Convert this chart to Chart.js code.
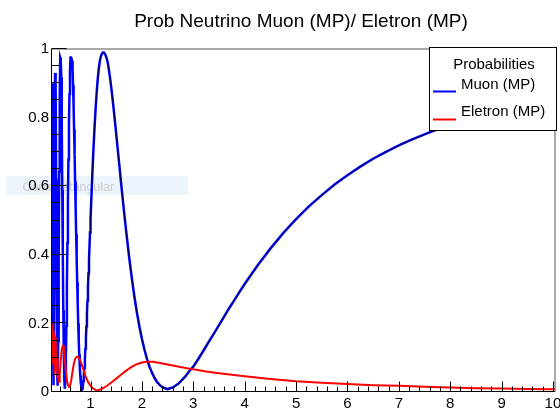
<!DOCTYPE html>
<html><head><meta charset="utf-8">
<script src="https://cdn.jsdelivr.net/npm/chart.js@4.4.1/dist/chart.umd.min.js"></script>
<style>html,body{margin:0;padding:0;background:#fff;}#wrap{width:560px;height:408px;position:relative;}</style>
</head><body><div id="wrap"><canvas id="c" width="560" height="408"></canvas></div>
<script>
const chartTitle = 'Prob Neutrino Muon (MP)/ Eletron (MP)';
const legendTitle = 'Probabilities';
const seriesNames = ['Muon (MP)', 'Eletron (MP)'];
const ghostLabel = 'Caixa retangular';

const muonX = [
 0.25,0.26,0.27,0.28,0.29,0.30,0.31,0.32,0.33,0.34,0.35,0.36,0.37,0.38,0.39,0.40,0.41,0.42,0.43,0.44,
 0.45,0.46,0.47,0.48,0.49,0.50,0.51,0.52,0.53,0.54,0.55,0.56,0.57,0.58,0.59,0.60,0.61,0.62,0.63,0.64,
 0.65,0.66,0.67,0.68,0.69,0.70,0.71,0.72,0.73,0.74,0.75,0.76,0.77,0.78,0.79,0.80,0.81,0.82,0.83,0.84,
 0.85,0.86,0.87,0.88,0.89,0.90,0.91,0.92,0.93,0.94,0.95,0.96,0.97,0.98,0.99,1.00,
 1.02,1.04,1.06,1.08,1.10,1.12,1.14,1.16,1.18,1.20,1.22,1.24,1.26,1.28,1.30,1.32,1.34,1.36,1.38,1.40,
 1.42,1.44,1.46,1.48,1.50,1.52,1.54,1.56,1.58,1.60,
 1.65,1.70,1.75,1.80,1.85,1.90,1.95,2.00,2.05,2.10,2.15,2.20,2.25,2.30,2.35,2.40,2.45,2.50,2.55,2.60,
 2.65,2.70,2.75,2.80,2.85,2.90,2.95,3.00,
 3.1,3.2,3.3,3.4,3.5,3.6,3.7,3.8,3.9,4.0,
 4.25,4.5,4.75,5.0,5.25,5.5,5.75,6.0,6.25,6.5,6.75,7.0,7.25,7.5,7.75,8.0,8.5,9.0,9.5,10.0,10.04
];
const muonP = [
 0.90,0.68,0.165,0.02,0.32,0.75,0.93,0.917,0.62,0.285,0.06,0.018,0.148,0.383,0.643,0.855,0.975,0.97,0.918,0.773,
 0.59,0.404,0.238,0.113,0.035,0.01,0.033,0.097,0.193,0.309,0.435,0.56,0.678,0.783,0.869,0.934,0.975,0.975,0.97,0.965,
 0.944,0.894,0.834,0.765,0.692,0.615,0.538,0.461,0.388,0.32,0.258,0.2,0.151,0.11,0.074,0.048,0.028,0.016,0.01,0.011,
 0.019,0.032,0.049,0.07,0.096,0.126,0.158,0.192,0.229,0.266,0.306,0.346,0.386,0.426,0.466,0.505,
 0.58,0.652,0.718,0.777,0.829,0.874,0.912,0.942,0.964,0.978,0.986,0.99,0.99,0.986,0.979,0.97,0.956,0.937,0.916,0.892,
 0.866,0.839,0.811,0.782,0.752,0.722,0.692,0.662,0.632,0.601,
 0.529,0.46,0.395,0.336,0.282,0.234,0.192,0.155,0.123,0.096,0.073,0.055,0.04,0.028,0.02,0.014,0.011,0.008,0.011,0.013,
 0.018,0.023,0.03,0.038,0.046,0.056,0.066,0.074,
 0.097,0.121,0.146,0.17,0.195,0.22,0.245,0.268,0.292,0.315,
 0.369,0.418,0.463,0.504,0.541,0.574,0.605,0.632,0.657,0.68,0.7,0.719,0.736,0.751,0.766,0.779,0.802,0.822,0.839,0.854,0.855
];

const eletronX = [
 0.25,0.26,0.27,0.28,0.29,0.30,0.31,0.32,0.33,0.34,0.35,0.36,0.37,0.38,0.39,0.40,0.42,0.44,0.46,0.47,
 0.48,0.50,0.52,0.54,0.56,0.58,0.60,0.62,0.64,0.66,0.68,0.70,0.72,0.74,0.76,0.78,0.80,0.85,0.90,0.95,
 1.00,1.05,1.10,1.15,1.20,1.30,1.40,1.50,1.60,1.70,1.80,1.90,2.00,2.10,2.20,2.30,2.40,2.50,2.75,3.00,
 3.25,3.50,3.75,4.00,4.50,5.00,5.50,6.00,6.50,7.00,7.50,8.00,8.50,9.00,9.50,10.00,10.04
];
const eletronP = [
 0.20,0.08,0.18,0.10,0.17,0.05,0.16,0.15,0.09,0.06,0.10,0.04,0.05,0.03,0.03,0.05,0.09,0.125,0.135,0.135,
 0.125,0.09,0.06,0.035,0.02,0.015,0.018,0.03,0.05,0.07,0.085,0.096,0.101,0.103,0.102,0.098,0.092,0.07,0.047,0.03,
 0.018,0.01,0.006,0.005,0.008,0.016,0.027,0.039,0.051,0.063,0.073,0.081,0.086,0.088,0.088,0.086,0.083,0.08,0.073,0.066,
 0.06,0.055,0.05,0.046,0.038,0.031,0.027,0.023,0.02,0.018,0.015,0.013,0.011,0.01,0.009,0.008,0.008
];

const xTickValues = [1,2,3,4,5,6,7,8,9,10];
const yTickValues = [0,0.2,0.4,0.6,0.8,1];
const xRange = [0.25, 10.04];
const yRange = [0, 1];
const overlayFrom = 0.9;

const FONT = '"Liberation Sans", Arial, Helvetica, sans-serif';
const toPts = (xs, ys) => xs.map((x, i) => ({x: x, y: ys[i]}));
const muonPts = toPts(muonX, muonP);

const rootPlugin = {
  id: 'rootStyle',
  beforeDraw(chart) {
    const ctx = chart.ctx;
    ctx.save();
    ctx.fillStyle = '#ffffff';
    ctx.fillRect(0, 0, chart.width, chart.height);
    ctx.fillStyle = '#edf4fc';
    ctx.fillRect(6, 176, 182, 19);
    ctx.fillStyle = '#cccccc';
    ctx.font = '12.5px ' + FONT;
    ctx.textBaseline = 'alphabetic';
    ctx.textAlign = 'left';
    ctx.fillText(ghostLabel, 22.5, 190.5);
    ctx.restore();
  },
  afterDatasetsDraw(chart) {
    const ctx = chart.ctx;
    const a = chart.chartArea;
    const xs = chart.scales.x, ys = chart.scales.y;
    ctx.save();
    ctx.lineWidth = 1;
    ctx.strokeStyle = '#000';
    ctx.beginPath();
    ctx.moveTo(a.left - 0.5, a.top); ctx.lineTo(a.left - 0.5, a.bottom - 0.5);
    ctx.lineTo(a.right, a.bottom - 0.5);
    ctx.stroke();
    ctx.strokeStyle = '#555';
    ctx.beginPath();
    ctx.moveTo(a.left - 0.5, a.top); ctx.lineTo(a.right, a.top);
    ctx.lineTo(a.right, a.bottom);
    ctx.stroke();
    ctx.strokeStyle = '#000';
    ctx.beginPath();
    for (let v = 0; v <= 20; v++) {
      const val = v * 0.05;
      const py = Math.round(ys.getPixelForValue(val)) - 0.5;
      const len = (v % 4 === 0) ? 15 : 7.5;
      ctx.moveTo(a.left - 0.5, py); ctx.lineTo(a.left - 0.5 + len, py);
    }
    for (let v = 2; v <= 50; v++) {
      const val = v * 0.2;
      if (val < xRange[0] || val > xRange[1]) continue;
      const px = Math.round(xs.getPixelForValue(val)) + 0.5;
      const len = (v % 5 === 0) ? 10 : 5;
      ctx.moveTo(px, a.bottom - 0.5); ctx.lineTo(px, a.bottom - 0.5 - len);
    }
    ctx.stroke();
    const L = 429.5, T = 47.5, R = 556.5, B = 130.5;
    ctx.fillStyle = '#fff';
    ctx.fillRect(L, T, R - L, B - T);
    ctx.strokeStyle = '#000';
    ctx.strokeRect(L, T, R - L, B - T);
    ctx.fillStyle = '#000';
    ctx.font = '15px ' + FONT;
    ctx.textBaseline = 'middle';
    ctx.textAlign = 'center';
    ctx.fillText(legendTitle, 494, 65);
    ctx.textAlign = 'left';
    ctx.fillText(seriesNames[0], 461, 85);
    ctx.fillText(seriesNames[1], 461, 112);
    ctx.lineWidth = 2;
    ctx.strokeStyle = '#0000ff';
    ctx.beginPath(); ctx.moveTo(433, 91.5); ctx.lineTo(456, 91.5); ctx.stroke();
    ctx.strokeStyle = '#ff0000';
    ctx.beginPath(); ctx.moveTo(433, 119.5); ctx.lineTo(456, 119.5); ctx.stroke();
    ctx.restore();
  },
  afterDraw(chart) {
    const ctx = chart.ctx;
    ctx.save();
    ctx.fillStyle = '#000';
    ctx.font = '19px ' + FONT;
    ctx.textAlign = 'center';
    ctx.textBaseline = 'alphabetic';
    ctx.fillText(chartTitle, 301, 26.5);
    ctx.restore();
  }
};

new Chart(document.getElementById('c'), {
  type: 'line',
  data: {
    datasets: [
      { label: seriesNames[1], data: toPts(eletronX, eletronP), borderColor: '#ff0000', borderWidth: 2, pointRadius: 0, tension: 0, order: 0 },
      { label: seriesNames[0] + ' core', data: muonPts.filter(p => p.x >= overlayFrom), borderColor: 'rgba(0,0,60,0.85)', borderWidth: 1, pointRadius: 0, tension: 0, order: 1 },
      { label: seriesNames[0], data: muonPts, borderColor: '#0000ff', borderWidth: 2.5, pointRadius: 0, tension: 0, order: 2 }
    ]
  },
  options: {
    responsive: false,
    animation: false,
    devicePixelRatio: 1,
    layout: { padding: { left: 0, top: 49, right: 5, bottom: 0 } },
    plugins: { legend: { display: false }, tooltip: { enabled: false }, title: { display: false } },
    scales: {
      x: {
        type: 'linear', min: xRange[0], max: xRange[1],
        grid: { display: false, drawTicks: false },
        border: { display: false },
        ticks: { color: '#000', font: { family: FONT, size: 15 }, padding: 3, maxRotation: 0, autoSkip: false, callback: (v) => String(v) },
        afterBuildTicks: (s) => { s.ticks = xTickValues.map(v => ({ value: v })); },
        afterFit: (s) => { s.height = 16; s.paddingLeft = 0; s.paddingRight = 0; }
      },
      y: {
        type: 'linear', min: yRange[0], max: yRange[1],
        grid: { display: false, drawTicks: false },
        border: { display: false },
        ticks: { color: '#000', font: { family: FONT, size: 15 }, padding: 3, autoSkip: false, callback: (v) => String(v) },
        afterBuildTicks: (s) => { s.ticks = yTickValues.map(v => ({ value: v })); },
        afterFit: (s) => { s.width = 52; s.paddingTop = 0; s.paddingBottom = 0; }
      }
    }
  },
  plugins: [rootPlugin]
});
</script>
</body></html>
